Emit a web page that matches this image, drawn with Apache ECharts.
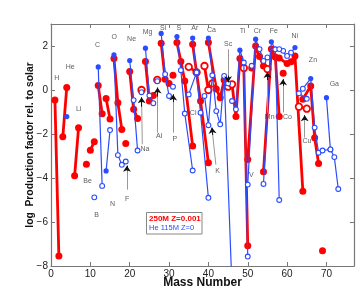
<!DOCTYPE html>
<html><head><meta charset="utf-8">
<script src="https://cdn.jsdelivr.net/npm/echarts@6/dist/echarts.min.js"></script>
<style>html,body{margin:0;padding:0;background:#fff}#c{width:357px;height:291px}</style>
</head><body><div id="c"></div><script>
// [mass number, log production factor, minor-isotope flag (1 = open symbol)]
// 250M Z=0.001
const r_H  = [[1,-0.45,0],[2,-7.55,0]];
const r_He = [[3,-2.13,0],[4,0.11,0]];
const r_Li = [[6,-3.9,0],[7,-1.72,0]];
const r_Be = [[9,-3.37,0]];
const r_B  = [[10,-2.74,0],[11,-2.35,0]];
const r_C  = [[12,0.2,0],[13,-1.08,0]];
const r_N  = [[14,-0.39,0],[15,-1.32,0]];
const r_O  = [[16,1.43,0],[17,-0.58,0],[18,-1.79,0]];
const r_F  = [[19,-2.43,0]];
const r_Ne = [[20,0.84,0],[21,-0.88,0],[22,-1.29,0]];
const r_Na = [[23,0.0,1]];
const r_Mg = [[24,1.29,0],[25,-0.5,0],[26,-0.25,0]];
const r_Al = [[27,0.46,1]];
const r_Si = [[28,2.12,0],[29,0.49,0],[30,0.3,0]];
const r_P  = [[31,0.67,0]];
const r_S  = [[32,2.16,0],[33,1.3,0],[34,0.41,0],[36,-2.55,0]];
const r_Cl = [[35,1.05,1],[37,0.8,1]];
const r_Ar = [[36,2.08,0],[38,-0.5,0],[40,-3.31,0]];
const r_K  = [[39,1.09,1],[40,0.0,1],[41,0.3,1]];
const r_Ca = [[40,2.16,0],[42,0.05,0],[43,-0.35,0],[44,0.45,0]];
const r_Sc = [[45,0.15,1]];
const r_Ti = [[46,0.26,1],[47,-1.2,0],[48,1.43,0],[49,1.0,1],[50,-7.08,0]];
const r_V  = [[51,1.0,0]];
const r_Cr = [[50,-3.16,0],[52,2.0,0],[53,1.52,0],[54,1.09,0]];
const r_Mn = [[55,0.95,1]];
const r_Fe = [[54,-3.72,0],[56,1.86,0],[57,1.5,0],[58,-1.21,0]];
const r_Co = [[59,0.76,0]];
const r_Ni = [[58,1.45,0],[60,1.2,0],[61,1.28,0],[62,1.55,0],[64,-4.6,0]];
const r_Cu = [[63,-0.76,1],[65,-0.85,1]];
const r_Zn = [[64,-0.42,0],[66,0.18,0],[67,-2.17,0],[68,-3.34,0]];
const r_Ga = [[69,-7.31,0]];

// He 115M Z=0
const b_He = [[4,-1.21,0]];
const b_B  = [[11,-4.88,1]];
const b_C  = [[12,1.05,0],[13,-4.36,1]];
const b_N  = [[14,-3.68,0],[15,-1.82,1]];
const b_O  = [[16,1.6,0],[17,-2.96,1],[18,-3.4,1]];
const b_F  = [[19,-3.25,1]];
const b_Ne = [[20,1.34,0],[21,-0.46,1],[22,-2.75,1]];
const b_Na = [[23,-0.1,1]];
const b_Mg = [[24,1.9,0],[25,-0.25,1],[26,-0.6,1]];
const b_Al = [[27,0.4,1]];
const b_Si = [[28,2.57,0],[29,0.72,1],[30,-0.27,1]];
const b_P  = [[31,0.15,1]];
const b_S  = [[32,2.43,0],[33,0.9,1],[34,-1.07,1],[36,-3.66,1]];
const b_Cl = [[35,-0.2,1],[37,0.8,1]];
const b_Ar = [[36,2.36,0],[38,-1.03,1],[40,-4.9,1]];
const b_K  = [[39,-0.27,1],[40,-1.6,1],[41,0.67,1]];
const b_Ca = [[40,2.36,0],[42,-0.96,1],[43,-1.56,1],[44,0.64,1],[46,-9.0,1]];
const b_Sc = [[45,0.3,1]];
const b_Ti = [[46,-0.5,1],[47,-0.88,1],[48,1.81,0],[49,1.25,1],[50,-7.57,1]];
const b_V  = [[51,1.1,1]];
const b_Cr = [[50,-4.3,1],[52,2.31,0],[53,1.86,1],[54,1.32,1]];
const b_Mn = [[55,1.48,1]];
const b_Fe = [[54,-4.27,1],[56,2.19,0],[57,1.85,1],[58,-5.0,1]];
const b_Co = [[59,1.78,1]];
const b_Ni = [[58,1.86,1],[60,1.55,1],[61,1.7,1],[62,1.93,0]];
const b_Cu = [[63,-0.15,1],[65,-0.4,1]];
const b_Zn = [[64,0.06,1],[66,0.52,0],[67,-1.71,1],[68,-2.85,1],[69,-2.75,1],[71,-2.7,1],[72,-3.05,1],[73,-4.5,1]];
const b_Ga = [[70,-0.35,0],[71,-2.7,1]];

const redSets  = [r_H,r_He,r_Li,r_Be,r_B,r_C,r_N,r_O,r_F,r_Ne,r_Na,r_Mg,r_Al,r_Si,r_P,r_S,r_Cl,r_Ar,r_K,r_Ca,r_Sc,r_Ti,r_V,r_Cr,r_Mn,r_Fe,r_Co,r_Ni,r_Cu,r_Zn,r_Ga];
const blueSets = [b_He,b_B,b_C,b_N,b_O,b_F,b_Ne,b_Na,b_Mg,b_Al,b_Si,b_P,b_S,b_Cl,b_Ar,b_K,b_Ca,b_Sc,b_Ti,b_V,b_Cr,b_Mn,b_Fe,b_Co,b_Ni,b_Cu,b_Zn,b_Ga];

// element annotations
const elemNames = ['H','He','Li','Be','B','C','N','O','F','Ne','Na','Mg','Al','Si','P','S','Cl','Ar','K','Ca','Sc','Ti','V','Cr','Mn','Fe','Co','Ni','Cu','Zn','Ga'];
const elemA = [1.45,4.9,7.03,9.3,11.6,11.85,15.66,16.07,19.37,20.48,23.86,24.54,27.49,28.5,31.47,32.49,36.12,36.55,42.31,40.79,45.0,48.65,50.94,52.46,55.58,56.6,60.08,61.93,65.05,66.57,72.0];
const elemV = [0.53,1.05,-0.85,-4.12,-5.68,2.05,-5.18,2.39,-4.95,2.31,-2.67,2.62,-2.1,2.8,-2.22,2.8,-1.03,2.8,-3.69,2.74,2.08,2.66,-3.88,2.66,-1.21,2.66,-1.21,2.46,-2.33,1.35,0.26];

// arrows: tail -> head
const arrowTail = [[19.3,-4.53],[23.2,-2.47],[27.08,-1.94],[31.04,-1.94],[41.9,-3.39],[45,1.85],[55,-1.02],[58.96,-1.02],[64.47,-2.16]];
const arrowHead = [[19.3,-3.44],[23.02,-0.33],[27.08,0.11],[31.04,-0.2],[40.9,-1.71],[45,0.35],[55,0.82],[58.96,0.49],[64.47,-1.15]];

const RED = '#ff0000', BLUE = '#2a4cff';
function seriesFor(sets, name, color, lw, fillSize, ringSize, ringW, z) {
  return sets.map(set => ({
    type: 'line', name, z, silent: true, animation: false, clip: true, showAllSymbol: true,
    lineStyle: { color, width: lw },
    symbol: 'circle',
    emphasis: { disabled: true },
    data: set.map(p => ({
      value: [p[0], p[1]],
      symbolSize: p[2] ? ringSize : fillSize,
      itemStyle: p[2] ? { color: '#fff', borderColor: color, borderWidth: ringW } : { color, borderWidth: 0 }
    }))
  }));
}

const axisCol = '#777';
const font = 'Liberation Sans';
const chart = echarts.init(document.getElementById('c'), null, { renderer: 'canvas' });
const option = {
  animation: false,
  grid: { left: 51, right: 3, top: 24, bottom: 25, containLabel: false, outerBoundsMode: 'none' },
  xAxis: [
    { type: 'value', min: 0, max: 77, interval: 10, position: 'bottom',
      axisLine: { show: true, onZero: false, lineStyle: { color: axisCol, width: 1.2 } },
      axisTick: { show: true, inside: true, length: 4, lineStyle: { color: axisCol } },
      axisLabel: { margin: 3, color: '#222', fontSize: 10, fontFamily: font, formatter: v => (v % 10 === 0 ? String(v) : '') },
      splitLine: { show: false },
      name: 'Mass Number', nameLocation: 'middle', nameGap: 11, nameMoveOverlap: false,
      nameTextStyle: { fontWeight: 'bold', fontSize: 12, color: '#111', fontFamily: font } },
    { type: 'value', min: 0, max: 77, interval: 10, position: 'top',
      axisLine: { show: true, onZero: false, lineStyle: { color: axisCol, width: 1.2 } },
      axisTick: { show: true, inside: true, length: 4, lineStyle: { color: axisCol } },
      axisLabel: { show: false }, splitLine: { show: false } }
  ],
  yAxis: [
    { type: 'value', min: -8, max: 3, interval: 2, position: 'left',
      axisLine: { show: true, onZero: false, lineStyle: { color: axisCol, width: 1.2 } },
      axisTick: { show: true, inside: true, length: 4, lineStyle: { color: axisCol } },
      axisLabel: { margin: 3, color: '#222', fontSize: 10, fontFamily: font,
        formatter: v => (v === 3 ? '' : (v < 0 ? '\u2212' + (-v) : String(v))) },
      splitLine: { show: false },
      name: 'log  Production factor rel. to solar', nameLocation: 'middle', nameGap: 16, nameRotate: 90, nameMoveOverlap: false,
      nameTextStyle: { fontWeight: 'bold', fontSize: 10.3, color: '#111', fontFamily: font } },
    { type: 'value', min: -8, max: 3, interval: 2, position: 'right',
      axisLine: { show: true, onZero: false, lineStyle: { color: axisCol, width: 1.2 } },
      axisTick: { show: true, inside: true, length: 4, lineStyle: { color: axisCol } },
      axisLabel: { show: false }, splitLine: { show: false } }
  ],
  series: [
    ...seriesFor(redSets, '250M Z=0.001', RED, 2.8, 7, 6.5, 1.8, 2),
    ...seriesFor(blueSets, 'He 115M Z=0', BLUE, 1.2, 5.2, 4.8, 1.1, 3),
    { type: 'lines', coordinateSystem: 'cartesian2d', z: 5, silent: true, animation: false,
      symbol: 'none', lineStyle: { color: '#999', width: 1, opacity: 1 },
      data: arrowTail.map((t, i) => ({ coords: [t, arrowHead[i]] })) },
    { type: 'lines', coordinateSystem: 'cartesian2d', z: 6, silent: true, animation: false,
      symbol: ['none', 'arrow'], symbolSize: 6, lineStyle: { color: '#111', width: 1, opacity: 1 },
      data: arrowTail.map((t, i) => {
        const h = arrowHead[i];
        return { coords: [[t[0] + 0.8 * (h[0] - t[0]), t[1] + 0.8 * (h[1] - t[1])], h] };
      }) },
    { type: 'scatter', z: 7, silent: true, animation: false, symbolSize: 1,
      itemStyle: { color: 'rgba(0,0,0,0)' },
      label: { show: true, position: 'inside', formatter: p => p.name, color: '#333', fontSize: 7, fontFamily: font },
      data: elemNames.map((n, i) => ({ name: n, value: [elemA[i], elemV[i]] })) }
  ],
  graphic: [
    { type: 'rect', z: 100, shape: { x: 146.5, y: 212.5, width: 55.5, height: 21.5 },
      style: { fill: '#fff', stroke: '#888', lineWidth: 1 } },
    { type: 'text', z: 101, x: 149, y: 218.5,
      style: { text: '250M Z=0.001', fill: RED, font: 'bold 8px "Liberation Sans"', verticalAlign: 'middle' } },
    { type: 'text', z: 101, x: 149, y: 227.5,
      style: { text: 'He 115M Z=0', fill: BLUE, font: '7.5px "Liberation Sans"', verticalAlign: 'middle' } }
  ]
};
chart.setOption(option);
</script></body></html>
